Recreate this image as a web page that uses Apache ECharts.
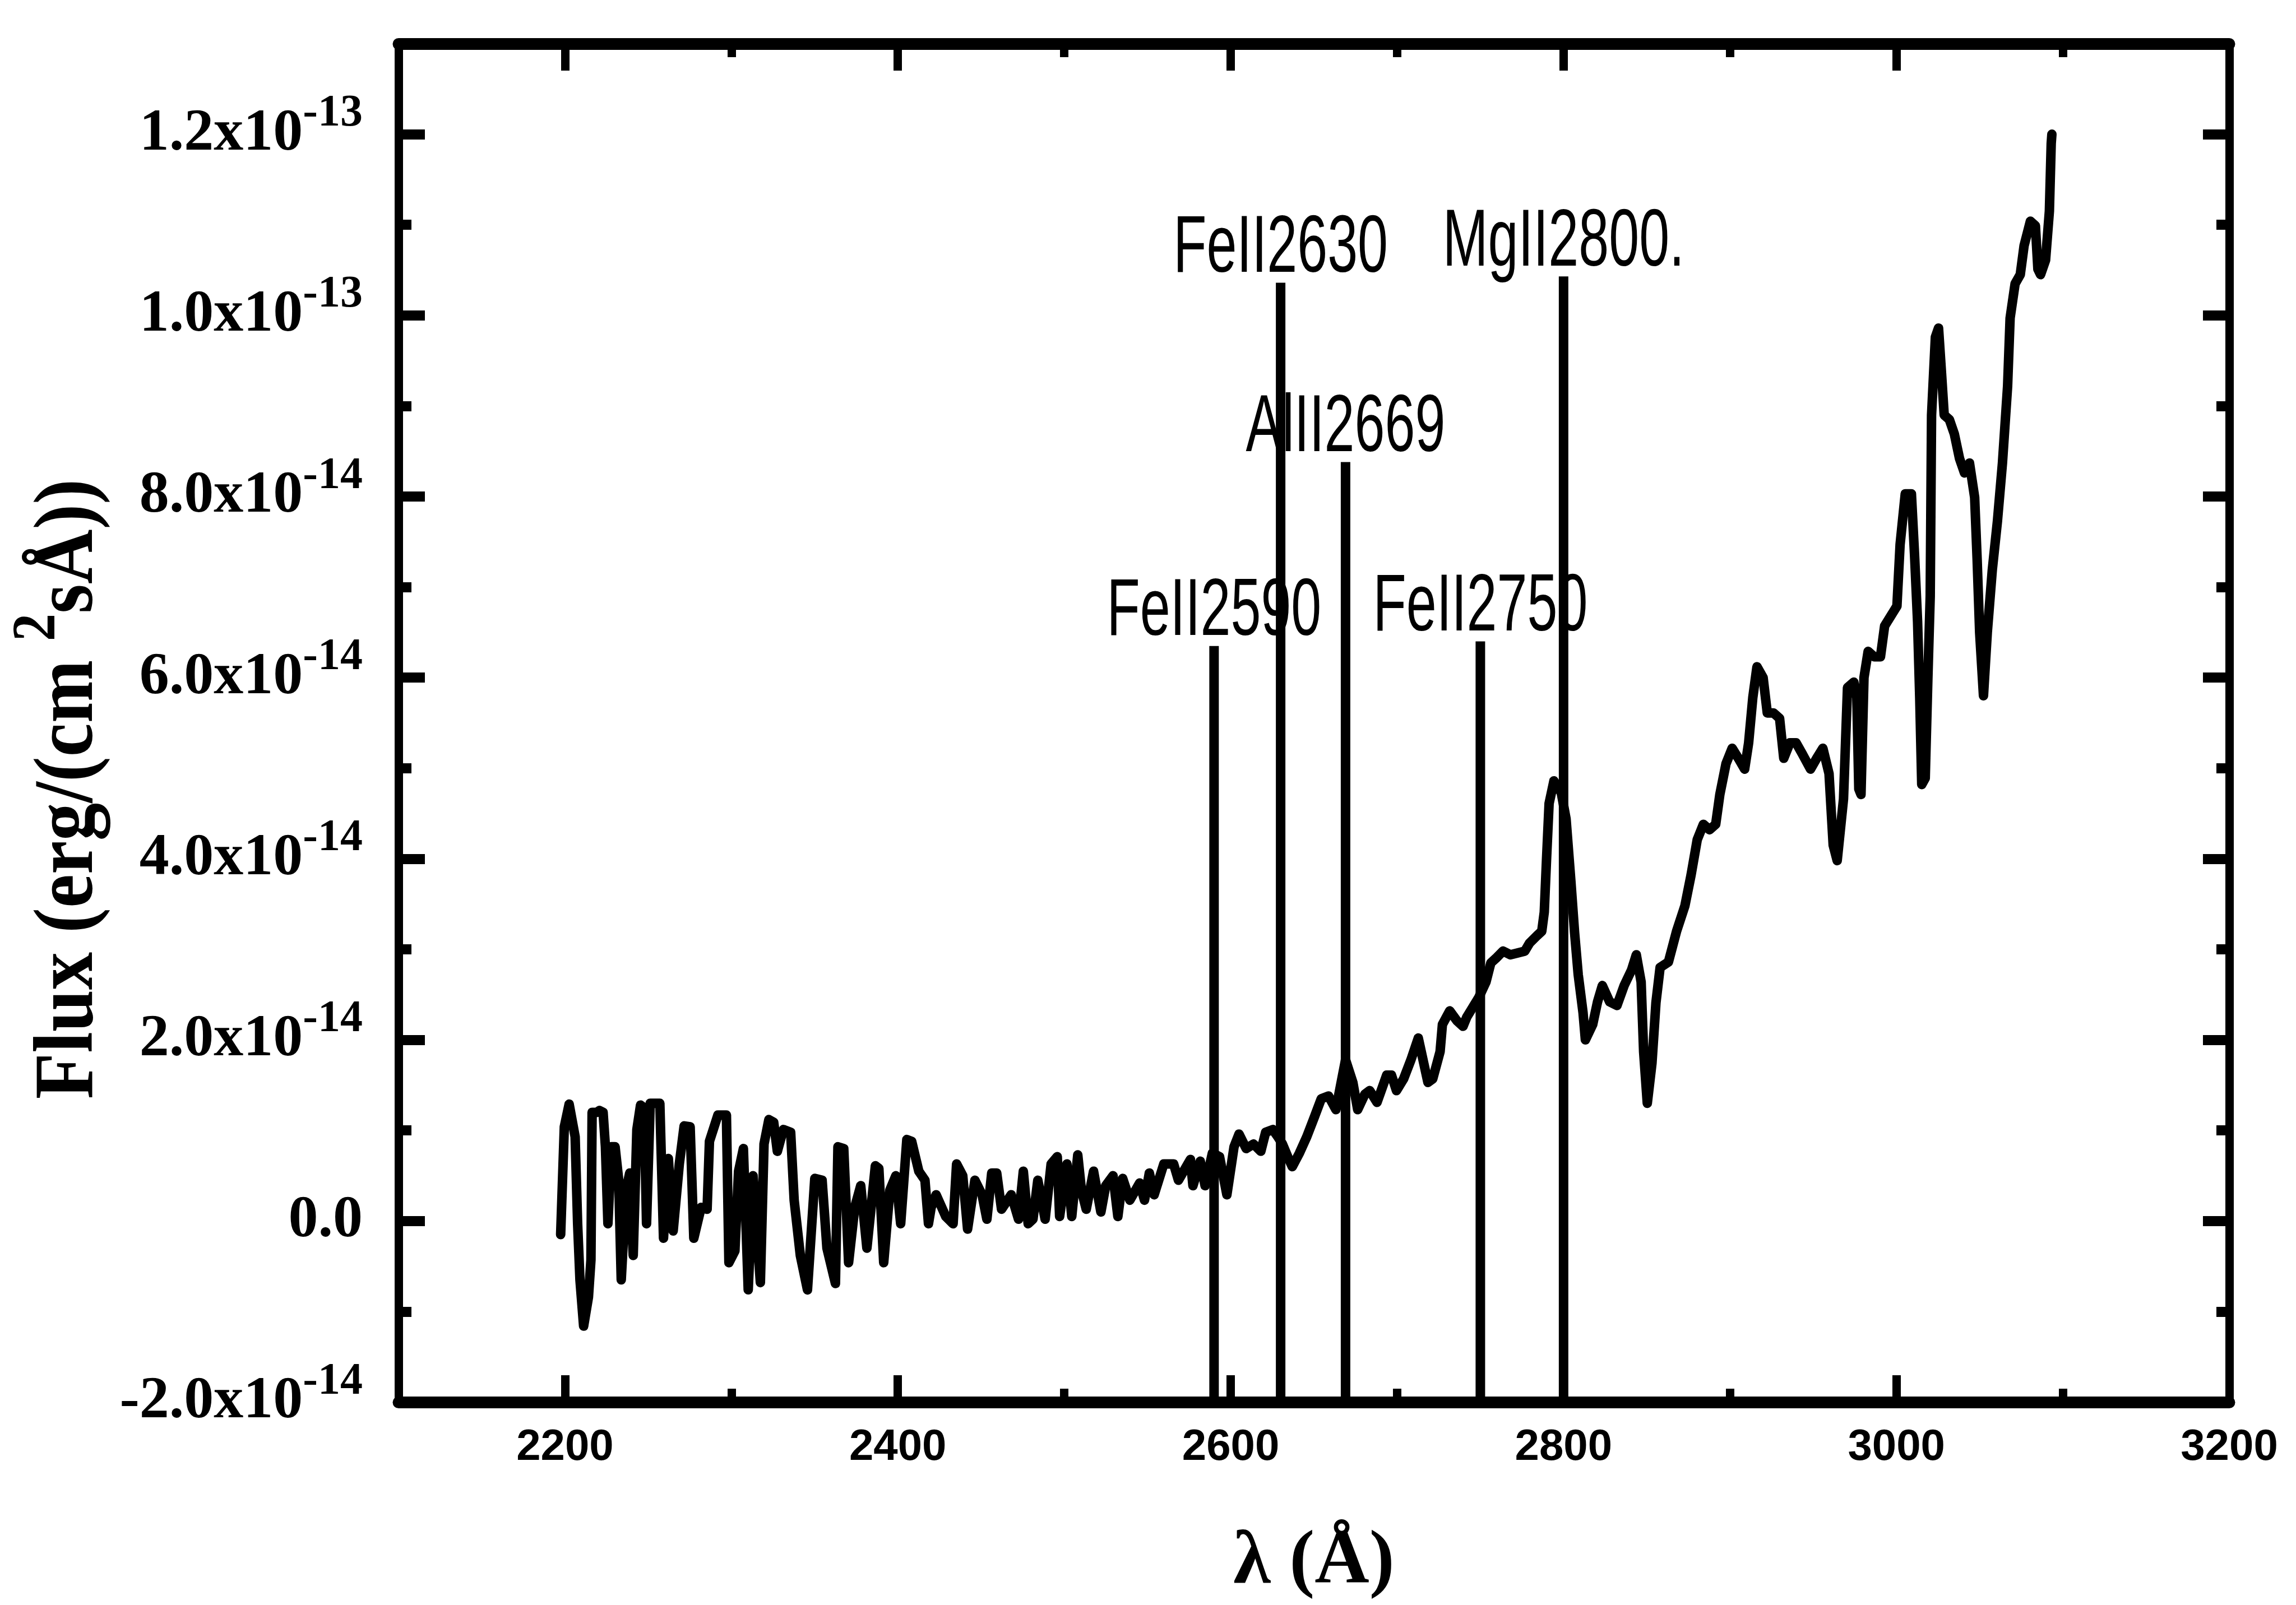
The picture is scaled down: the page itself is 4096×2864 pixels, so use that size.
<!DOCTYPE html>
<html><head><meta charset="utf-8">
<script src="https://cdn.jsdelivr.net/npm/echarts@6/dist/echarts.min.js"></script>
<style>html,body{margin:0;padding:0;background:#fff}#c{width:4096px;height:2864px}</style>
</head><body><div id="c"></div>
<script>
// Spectrum: wavelength in Å, flux in units of 1e-14 erg/(cm^2 s Å)
const wavelength = [
2197.4,2199.6,2202.5,2206.1,2207.6,2209.0,2211.2,2214.1,2215.6,2216.3,2219.2,2220.7,2222.9,2224.3,2225.8,2227.9,2230.1,2232.3,2233.8,2236.7,
2238.9,2241.0,2243.2,2245.4,2247.6,2249.0,2251.2,2257.0,2259.2,2262.1,2265.0,2268.7,2271.6,2275.2,2277.4,2281.8,2285.4,2286.8,2291.9,2297.0,
2298.5,2302.1,2304.3,2307.2,2310.1,2313.0,2317.4,2319.6,2322.5,2325.4,2327.6,2331.2,2335.6,2337.7,2341.4,2345.7,2350.1,2354.5,2357.4,2362.5,
2364.0,2367.5,2370.4,2374.1,2377.7,2381.4,2386.5,2388.6,2391.5,2395.2,2398.8,2401.7,2405.4,2408.3,2412.6,2416.3,2418.4,
2420.0,2423.0,2428.8,2433.2,2435.3,2439.0,2441.9,2446.3,2450.6,2453.5,2456.4,2459.4,2462.3,2468.1,2472.5,2475.4,2478.3,2481.2,2484.1,2488.5,
2492.1,2495.8,2497.2,2501.6,2504.5,2508.1,2510.3,2513.2,2517.6,2522.0,2524.9,2529.3,2532.2,2535.1,2539.4,2545.3,2548.2,2551.1,2554.0,2559.8,
2565.7,2568.6,2575.8,2577.3,2581.7,2584.6,2589.0,2593.3,2597.7,2602.0,2605.0,2609.3,2613.7,2618.1,2621.0,2625.3,2628.3,2631.1,2634.5,2637.0,
2641.3,2645.7,2650.1,2654.4,2658.8,2663.2,2669.0,2673.4,2676.3,2680.6,2683.5,2687.9,2693.7,2696.6,2699.6,2703.9,2708.3,2712.7,2718.5,2721.4,
2725.8,2727.2,2731.6,2736.0,2739.6,2741.8,2749.1,2753.4,2756.3,2759.3,2763.6,2768.0,2772.4,2776.7,2779.6,2784.0,2786.9,2788.4,2789.8,2791.3,
2794.2,2798.6,2801.5,2804.4,2806.6,2808.8,2811.7,2813.1,2817.5,2820.4,2823.3,2827.7,2832.1,2836.4,2840.8,2843.7,2846.6,2848.1,2850.3,
2853.1,2855.5,2858.0,2863.0,2867.9,2872.9,2876.6,2880.3,2884.0,2887.7,2891.4,2893.9,2897.6,2901.3,2905.0,2908.8,2911.2,2913.7,2916.2,2919.9,
2922.4,2926.1,2929.8,2932.3,2936.0,2939.7,2943.4,2948.4,2952.1,2955.8,2959.5,2962.0,2964.4,2968.2,2970.6,2974.4,2976.2,2977.4,2978.7,2980.5,
2983.0,2986.7,2990.4,2992.9,2996.6,3000.3,3002.2,3005.3,3009.0,3010.9,3012.7,3014.0,3015.2,3017.3,3018.9,3020.3,3021.1,3023.4,3025.3,3027.2,
3028.7,3031.8,3034.8,3037.9,3040.9,3043.9,3047.0,3048.5,3050.0,3052.3,3054.6,3057.6,3060.7,3063.7,3066.8,3068.3,3071.3,3074.4,3076.7,3080.5,
3083.5,3085.0,3086.6,3089.6,3091.9,3093.0,3093.4
];
const flux = [
-0.15,1.04,1.29,0.93,-0.03,-0.65,-1.16,-0.84,-0.43,1.20,1.20,1.22,1.20,0.82,-0.03,0.82,0.82,0.45,-0.65,0.34,
0.53,-0.38,1.01,1.28,1.25,-0.03,1.30,1.30,-0.19,0.69,-0.11,0.63,1.05,1.04,-0.19,0.15,0.13,0.88,1.17,1.17,
-0.46,-0.33,0.55,0.80,-0.76,0.50,-0.68,0.85,1.12,1.09,0.77,1.01,0.98,0.23,-0.38,-0.76,0.47,0.45,-0.30,-0.69,
0.82,0.80,-0.46,0.15,0.39,-0.30,0.61,0.58,-0.46,0.34,0.50,-0.03,0.90,0.88,0.55,0.45,-0.03,
0.15,0.29,0.05,-0.03,0.63,0.50,-0.09,0.45,0.29,0.02,0.53,0.53,0.13,0.29,0.02,0.55,-0.03,0.02,0.45,0.02,
0.63,0.71,0.05,0.63,0.05,0.73,0.34,0.13,0.55,0.10,0.39,0.50,0.05,0.47,0.23,0.42,0.23,0.53,0.29,0.63,
0.63,0.45,0.68,0.39,0.66,0.39,0.75,0.71,0.29,0.82,0.96,0.80,0.85,0.77,0.98,1.01,0.93,0.85,0.70,0.60,
0.75,0.93,1.14,1.35,1.38,1.23,1.78,1.53,1.23,1.40,1.44,1.31,1.61,1.61,1.44,1.57,1.78,2.02,1.53,1.57,
1.87,2.17,2.32,2.21,2.15,2.25,2.47,2.64,2.85,2.90,2.98,2.94,2.96,2.98,3.07,3.15,3.20,3.41,4.01,4.61,
4.86,4.73,4.44,3.75,3.19,2.72,2.30,2.00,2.17,2.42,2.60,2.42,2.38,2.60,2.77,2.94,2.64,1.87,1.30,
1.74,2.41,2.80,2.86,3.20,3.48,3.82,4.21,4.38,4.32,4.38,4.71,5.05,5.22,5.11,4.99,5.28,5.78,6.12,6.00,
5.61,5.61,5.55,5.11,5.28,5.28,5.16,4.99,5.11,5.22,4.94,4.15,3.98,4.66,5.89,5.95,5.78,4.77,4.71,6.00,
6.29,6.23,6.23,6.57,6.68,6.79,7.47,8.03,8.03,7.35,6.62,5.78,4.82,4.89,6.00,6.90,8.90,9.76,9.86,9.33,
8.90,8.85,8.69,8.42,8.26,8.37,7.99,7.30,6.50,5.80,6.50,7.19,7.73,8.37,9.22,9.97,10.35,10.45,10.77,11.04,
10.99,10.51,10.45,10.61,11.15,11.90,12.00
];
// Line identifications
const lineNames = ['FeII2590', 'FeII2630', 'AlII2669', 'FeII2750', 'MgII2800.'];
const lineWavelengths = [2590, 2630, 2669, 2750, 2800];
const lineTops = [6.35, 10.36, 8.38, 6.40, 10.43];
// Tick labels
const xTickValues = [2200, 2400, 2600, 2800, 3000, 3200];
const xTickLabels = ['2200', '2400', '2600', '2800', '3000', '3200'];
const yTickValues = [-2, 0, 2, 4, 6, 8, 10, 12];
const yTickMantissas = ['-2.0', '0.0', '2.0', '4.0', '6.0', '8.0', '1.0', '1.2'];
const yTickExponents = ['-14', '', '-14', '-14', '-14', '-14', '-13', '-13'];

const BLACK = '#000';
const SERIF = '"Liberation Serif", "Times New Roman", serif';
const chart = echarts.init(document.getElementById('c'), null, {renderer: 'canvas', width: 4096, height: 2864});

const xBase = {type: 'value', min: 2100, max: 3200, interval: 100, gridIndex: 0, splitLine: {show: false}};
const yBase = {type: 'value', min: -2, max: 13, interval: 2, gridIndex: 0, splitLine: {show: false}};

const option = {
  animation: false,
  backgroundColor: '#fff',
  grid: {left: 711, right: 119, top: 78, bottom: 362, containLabel: false},
  xAxis: [
    Object.assign({}, xBase, {position: 'bottom',
      axisLine: {show: true, onZero: false, lineStyle: {color: BLACK, width: 21}},
      axisTick: {show: true, inside: true, length: 24, lineStyle: {color: BLACK, width: 15}},
      axisLabel: {show: false}}),
    Object.assign({}, xBase, {position: 'bottom',
      axisLine: {show: false, onZero: false},
      axisTick: {show: true, inside: true, length: 48, customValues: xTickValues, lineStyle: {color: BLACK, width: 15}},
      axisLabel: {show: true, customValues: xTickValues, margin: 42, color: BLACK,
        fontFamily: '"Liberation Sans", Arial, sans-serif', fontWeight: 'bold', fontSize: 78,
        formatter: v => { const i = xTickValues.indexOf(Math.round(v)); return i < 0 ? '' : xTickLabels[i]; }},
      name: 'λ (Å)', nameLocation: 'middle', nameGap: 220,
      nameTextStyle: {color: BLACK, fontFamily: SERIF, fontWeight: 'bold', fontSize: 135}}),
    Object.assign({}, xBase, {position: 'top',
      axisLine: {show: true, onZero: false, lineStyle: {color: BLACK, width: 21}},
      axisTick: {show: true, inside: true, length: 24, lineStyle: {color: BLACK, width: 15}},
      axisLabel: {show: false}}),
    Object.assign({}, xBase, {position: 'top',
      axisLine: {show: false, onZero: false},
      axisTick: {show: true, inside: true, length: 48, customValues: xTickValues, lineStyle: {color: BLACK, width: 15}},
      axisLabel: {show: false}})
  ],
  yAxis: [
    Object.assign({}, yBase, {position: 'left',
      axisLine: {show: true, onZero: false, lineStyle: {color: BLACK, width: 15}},
      axisTick: {show: true, inside: true, length: 47, lineStyle: {color: BLACK, width: 18}},
      minorTick: {show: true, splitNumber: 2, length: 23, lineStyle: {color: BLACK, width: 18}},
      axisLabel: {show: true, margin: 64, color: BLACK,
        formatter: v => {
          const i = yTickValues.indexOf(Math.round(v * 1000) / 1000);
          if (i < 0) return '';
          return yTickExponents[i] ? '{m|' + yTickMantissas[i] + 'x10}{s|' + yTickExponents[i] + '}' : '{m|' + yTickMantissas[i] + '}';
        },
        rich: {
          m: {fontFamily: SERIF, fontWeight: 'bold', fontSize: 106, lineHeight: 106, color: BLACK},
          s: {fontFamily: SERIF, fontWeight: 'bold', fontSize: 80, lineHeight: 80, padding: [0, 0, 72, 0], color: BLACK}
        }}}),
    Object.assign({}, yBase, {position: 'right',
      axisLine: {show: true, onZero: false, lineStyle: {color: BLACK, width: 15}},
      axisTick: {show: true, inside: true, length: 47, lineStyle: {color: BLACK, width: 18}},
      minorTick: {show: true, splitNumber: 2, length: 23, lineStyle: {color: BLACK, width: 18}},
      axisLabel: {show: false}})
  ],
  graphic: [{
    type: 'text', x: 125, y: 1408, rotation: Math.PI / 2, scaleX: 0.9, z: 100,
    style: {
      text: '{m|Flux (erg/(cm }{s|2}{m|sÅ))}', align: 'center', verticalAlign: 'middle', fill: BLACK,
      rich: {
        m: {fontFamily: SERIF, fontWeight: 'bold', fontSize: 150, lineHeight: 150, fill: BLACK},
        s: {fontFamily: SERIF, fontWeight: 'bold', fontSize: 110, lineHeight: 110, padding: [0, 0, 113, 0], fill: BLACK}
      }
    }
  }],
  series: [
    {
      name: 'spectrum', type: 'line', xAxisIndex: 0, yAxisIndex: 0,
      data: wavelength.map((w, i) => [w, flux[i]]),
      showSymbol: false, symbol: 'none', smooth: false,
      lineStyle: {color: BLACK, width: 17, join: 'round', cap: 'round'},
      z: 2
    },
    {
      name: 'lines', type: 'custom', xAxisIndex: 0, yAxisIndex: 0, coordinateSystem: 'cartesian2d',
      data: lineWavelengths.map((w, i) => [w, lineTops[i]]),
      clip: false, z: 3,
      renderItem: (params, api) => {
        const w = api.value(0), top = api.value(1);
        const b = api.coord([w, -2]);
        const t = api.coord([w, top]);
        return {
          type: 'group',
          children: [
            {type: 'line', shape: {x1: b[0], y1: b[1], x2: t[0], y2: t[1]}, style: {stroke: BLACK, lineWidth: 17}},
            {type: 'text', x: t[0], y: t[1] + 13, scaleY: 1.5,
              style: {text: lineNames[params.dataIndex], fill: BLACK, font: '97px "Liberation Sans", Arial, sans-serif',
                align: 'center', verticalAlign: 'bottom'}}
          ]
        };
      }
    }
  ]
};
chart.setOption(option);
</script>
</body></html>
